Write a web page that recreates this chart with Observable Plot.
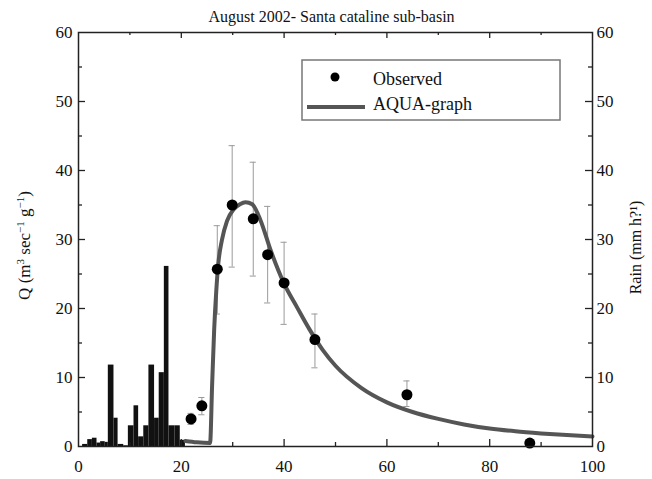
<!DOCTYPE html>
<html>
<head>
<meta charset="utf-8">
<script src="https://cdn.jsdelivr.net/npm/d3@7"></script>
<script src="https://cdn.jsdelivr.net/npm/@observablehq/plot@0.6"></script>
<style>
  html, body { margin: 0; padding: 0; background: #fff; }
  #chart { width: 652px; height: 479px; }
  #chart svg, #chart svg text { font-family: "Liberation Serif", "DejaVu Serif", serif !important; }
</style>
</head>
<body>
<div id="chart"></div>
<script>
// ---- Data ----
const titleText = "August 2002- Santa cataline sub-basin";
const leftLabel = "Q (m³ sec⁻¹ g⁻¹)";
const leftLabelParts = [["Q (m", false], ["3", true], [" sec", false], ["−1", true], [" g", false], ["−1", true], [")", false]];
const rightLabel = "Rain (mm h?¹)";
const legendLabels = ["Observed", "AQUA-graph"];

// Rain bars (edges in time, heights in mm/h)
const rainEdges = [0.8,1.8,2.7,3.6,4.3,5.2,5.8,6.9,7.7,8.8,9.7,10.8,11.7,12.7,13.7,14.8,15.7,16.7,17.6,18.8,19.8,20.8];
const rainValues = [0.3,1.0,1.2,0.5,0.7,0.6,11.8,4.1,0.3,0.1,3.0,5.9,1.4,3.0,11.8,4.1,10.7,26.1,3.0,3.0,0.9];

// Observed discharge with error bars
const obsX  = [21.9, 24.0, 27.0, 29.9, 34.0, 36.8, 40.0, 46.0, 63.9, 87.8];
const obsY  = [4.0, 5.9, 25.7, 35.0, 33.0, 27.8, 23.7, 15.5, 7.5, 0.5];
const obsLo = [3.2, 4.6, 19.2, 26.0, 24.7, 20.8, 17.7, 11.4, 5.8, null];
const obsHi = [4.8, 7.1, 32.0, 43.6, 41.2, 34.8, 29.6, 19.2, 9.5, null];

// AQUA-graph simulated curve
const simX = [20.8, 23.0, 25.6, 26.0, 26.4, 26.8, 27.2, 27.9, 28.9, 30.2, 31.4, 32.5, 33.8, 35.4, 37.4, 40.0, 42.5, 45.0, 47.5, 50.0, 55.0, 60.0, 65.0, 70.0, 75.0, 80.0, 85.0, 90.0, 95.0, 100];
const simY = [0.8, 0.6, 0.5, 9.0, 17.0, 22.5, 26.5, 29.9, 32.7, 34.4, 35.1, 35.4, 35.1, 32.8, 28.4, 23.6, 20.2, 16.9, 14.0, 11.7, 8.5, 6.4, 5.0, 4.0, 3.2, 2.6, 2.2, 1.9, 1.65, 1.45];

// Axis ticks
const xTickLabels = [0, 20, 40, 60, 80, 100];
const xMajor = [20, 40, 60, 80];
const xMinor = [10, 30, 50, 70, 90];
const yTickLabels = [0, 10, 20, 30, 40, 50, 60];
const yMajor = [10, 20, 30, 40, 50];
const yMinor = [5, 15, 25, 35, 45, 55];

// ---- Build tables ----
const rain = rainValues.map((v, i) => ({x1: rainEdges[i], x2: rainEdges[i + 1], y: v}));
const obs = obsX.map((x, i) => ({x, y: obsY[i], lo: obsLo[i], hi: obsHi[i]}));
const obsErr = obs.filter(d => d.lo != null);
const sim = simX.map((x, i) => ({x, y: simY[i]}));

// ---- Layout ----
const W = 652, H = 479;
const mL = 78, mR = 60, mT = 32, mB = 33;
const fw = W - mL - mR, fh = H - mT - mB;
const capHalf = 0.6;
const FONT = "Liberation Serif, DejaVu Serif, serif";

const chart = Plot.plot({
  width: W,
  height: H,
  marginLeft: mL,
  marginRight: mR,
  marginTop: mT,
  marginBottom: mB,
  style: {fontFamily: FONT, fontSize: "17px", color: "#111", background: "#fff"},
  x: {domain: [0, 100]},
  y: {domain: [0, 60]},
  marks: [
    // rain bars
    Plot.rectY(rain, {x1: "x1", x2: "x2", y: "y", fill: "#111"}),
    // error bars
    Plot.ruleX(obsErr, {x: "x", y1: "lo", y2: "hi", stroke: "#9a9a9a", strokeWidth: 1}),
    Plot.ruleY(obsErr, {y: "hi", x1: d => d.x - capHalf, x2: d => d.x + capHalf, stroke: "#9a9a9a", strokeWidth: 1}),
    Plot.ruleY(obsErr, {y: "lo", x1: d => d.x - capHalf, x2: d => d.x + capHalf, stroke: "#9a9a9a", strokeWidth: 1}),
    // simulated curve
    Plot.line(sim, {x: "x", y: "y", stroke: "#555", strokeWidth: 4, curve: "monotone-x"}),
    // observed points
    Plot.dot(obs, {x: "x", y: "y", r: 5.5, fill: "#000"}),
    // inward ticks
    Plot.ruleX(xMajor, {x: d => d, insetTop: fh - 7, stroke: "#222", strokeWidth: 1.3}),
    Plot.ruleX(xMinor, {x: d => d, insetTop: fh - 4, stroke: "#222", strokeWidth: 1.3}),
    Plot.ruleX(xMajor, {x: d => d, insetBottom: fh - 6, stroke: "#222", strokeWidth: 1.3}),
    Plot.ruleX(xMinor, {x: d => d, insetBottom: fh - 3, stroke: "#222", strokeWidth: 1.3}),
    Plot.ruleY(yMajor, {y: d => d, insetRight: fw - 7, stroke: "#222", strokeWidth: 1.3}),
    Plot.ruleY(yMinor, {y: d => d, insetRight: fw - 4, stroke: "#222", strokeWidth: 1.3}),
    Plot.ruleY(yMajor, {y: d => d, insetLeft: fw - 7, stroke: "#222", strokeWidth: 1.3}),
    Plot.ruleY(yMinor, {y: d => d, insetLeft: fw - 4, stroke: "#222", strokeWidth: 1.3}),
    // axes
    Plot.axisX({ticks: xTickLabels, tickSize: 0, tickPadding: 13, label: null, tickFormat: d => d, fontFamily: FONT}),
    Plot.axisY({anchor: "left", ticks: yTickLabels, tickSize: 0, tickPadding: 6, label: null, tickFormat: d => d, fontFamily: FONT}),
    Plot.axisY({anchor: "right", ticks: yTickLabels, tickSize: 0, tickPadding: 4, label: null, tickFormat: d => d, fontFamily: FONT}),
    Plot.frame({stroke: "#222", strokeWidth: 1.5}),
    // axis titles and chart title
    Plot.text([leftLabel], {text: d => d, frameAnchor: "left", textAnchor: "middle", dx: -54, dy: 6, rotate: -90, fontSize: 17, fontFamily: FONT}),
    Plot.text([rightLabel], {text: d => d, frameAnchor: "right", textAnchor: "middle", dx: 43, dy: 8, rotate: -90, fontSize: 16, fontFamily: FONT}),
    Plot.text([titleText], {text: d => d, frameAnchor: "top", textAnchor: "middle", dy: -22, dx: -4, fontSize: 16, fontFamily: FONT})
  ]
});

document.getElementById("chart").appendChild(chart);

// ---- Rich superscripts for the left axis title ----
const svg = d3.select(chart);
svg.selectAll("text").filter(function () { return this.textContent === leftLabel; })
  .each(function () {
    const t = d3.select(this);
    t.text(null);
    leftLabelParts.forEach(([s, sup], i) => {
      const ts = t.append("tspan").text(s);
      if (sup) ts.attr("font-size", 11).attr("baseline-shift", "55%");
    });
  });

// ---- Legend (inside the plot, top right) ----
const lg = svg.append("g").attr("font-family", FONT).attr("font-size", 18).attr("fill", "#111").attr("text-anchor", "start");
lg.append("rect").attr("x", 302).attr("y", 60).attr("width", 258).attr("height", 60)
  .attr("fill", "#fff").attr("stroke", "#777").attr("stroke-width", 1.5);
lg.append("circle").attr("cx", 335).attr("cy", 77).attr("r", 4.5).attr("fill", "#000");
lg.append("line").attr("x1", 307).attr("x2", 365).attr("y1", 107).attr("y2", 107)
  .attr("stroke", "#555").attr("stroke-width", 4);
lg.append("text").attr("x", 373).attr("y", 85).attr("text-anchor", "start").text(legendLabels[0]);
lg.append("text").attr("x", 373).attr("y", 110).attr("text-anchor", "start").text(legendLabels[1]);
</script>
</body>
</html>
